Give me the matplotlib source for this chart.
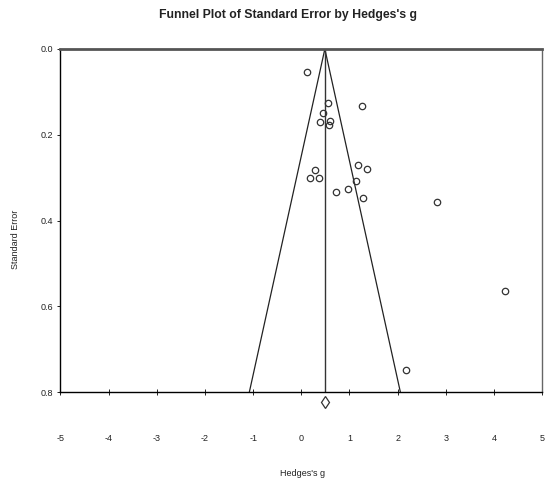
import matplotlib
matplotlib.use("Agg")
import matplotlib.pyplot as plt
import numpy as np

plt.rcParams['font.family'] = ['Liberation Sans', 'DejaVu Sans']

# study effects (Hedges's g) and their standard errors
hedges_g = [0.12, 0.56, 1.26, 0.46, 0.38, 0.59, 0.57, 1.18, 1.36, 0.28,
            0.19, 0.36, 1.14, 0.73, 0.98, 1.29, 2.82, 4.23, 2.17]
std_err = [0.054, 0.127, 0.133, 0.149, 0.170, 0.168, 0.178, 0.271, 0.281, 0.282,
           0.302, 0.300, 0.307, 0.333, 0.327, 0.348, 0.358, 0.564, 0.749]
pooled_g = 0.49
se_max = 0.8
x_ticks = [-5, -4, -3, -2, -1, 0, 1, 2, 3, 4, 5]
y_ticks = [0.0, 0.2, 0.4, 0.6, 0.8]

fig = plt.figure(figsize=(5.47, 4.84), dpi=100)
ax = fig.add_axes([0.1106, 0.190, 0.8803, 0.7088])

# funnel
ax.plot([pooled_g - 1.96 * se_max, pooled_g, pooled_g + 1.96 * se_max],
        [se_max, 0, se_max], color='#222222', lw=0.9)
ax.plot([pooled_g, pooled_g], [0, se_max], color='#333333', lw=1.0)

ax.plot(hedges_g, std_err, 'o', mfc='none', mec='#333333', ms=4.6, mew=0.9)
# summary diamond below axis
ax.plot([pooled_g], [0.823], 'd', mfc='none', mec='#333333', ms=6, mew=0.9, clip_on=False)

ax.set_xlim(-5, 5)
ax.set_ylim(se_max, 0)
ax.set_xticks(x_ticks)
ax.set_yticks(y_ticks)
ax.set_xticklabels([str(t) for t in x_ticks])
ax.set_yticklabels(['%.1f' % t for t in y_ticks])
ax.tick_params(axis='x', direction='inout', length=4, width=0.7, pad=28, labelsize=6.5, colors='#222222')
ax.tick_params(axis='y', direction='out', length=2, width=0.7, pad=3, labelsize=6.5, colors='#222222')

ax.spines['top'].set_linewidth(2.0)
ax.spines['top'].set_color('#555555')
ax.spines['right'].set_color('#666666')
ax.spines['right'].set_linewidth(1.0)
ax.spines['left'].set_linewidth(1.0)
ax.spines['bottom'].set_linewidth(1.0)

fig.text(0.527, 0.97, "Funnel Plot of Standard Error by Hedges's g",
         ha='center', va='center', fontsize=8.8, fontweight='bold', color='#222222')
fig.text(0.554, 0.022, "Hedges's g", ha='center', va='center', fontsize=6.5, color='#222222')
fig.text(0.029, 0.505, "Standard Error", ha='center', va='center', rotation=90,
         fontsize=6.5, color='#222222')

fig.savefig("out.png", dpi=100)
